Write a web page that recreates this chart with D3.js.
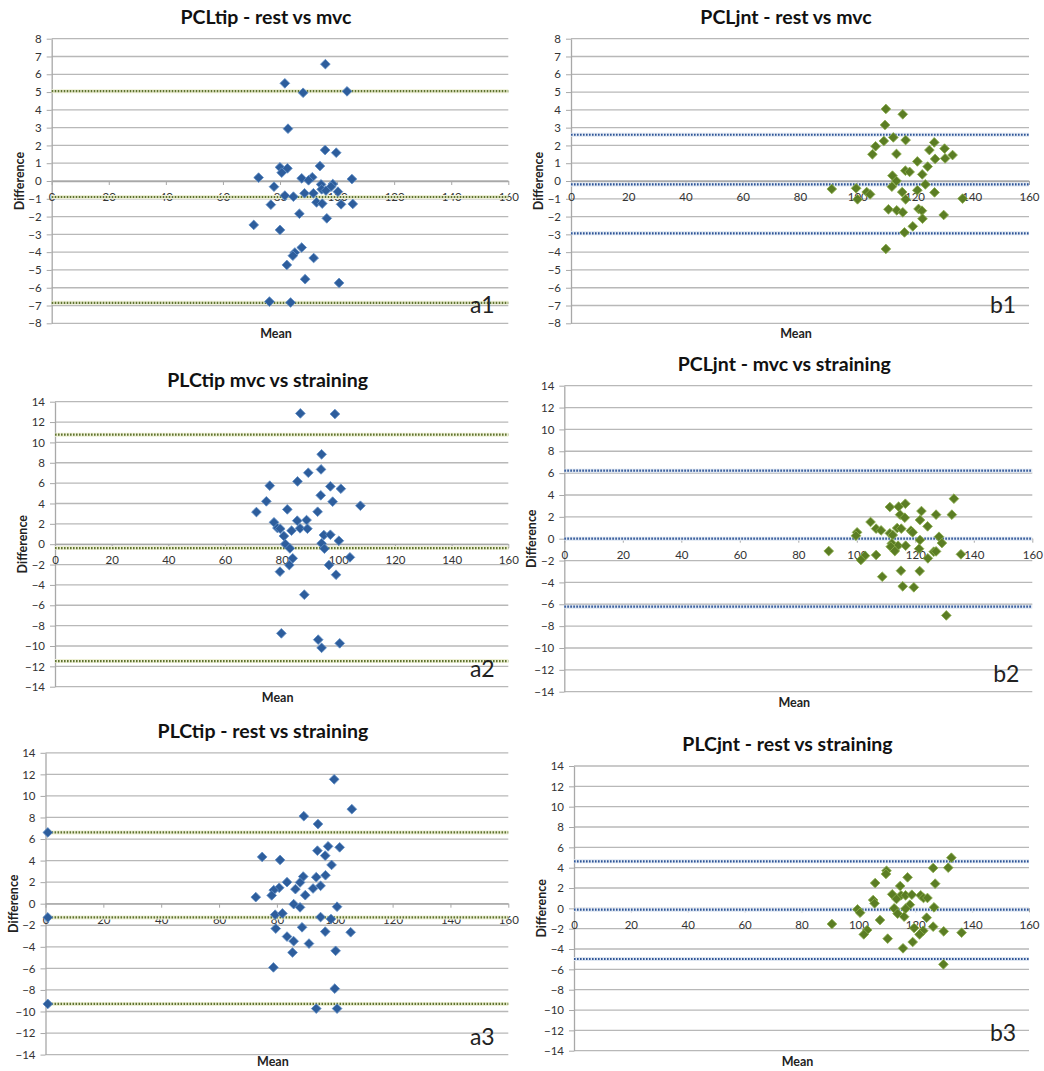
<!DOCTYPE html>
<html>
<head>
<meta charset="utf-8">
<script src="https://cdn.jsdelivr.net/npm/d3@7"></script>
<style>
body { margin: 0; background: #fff; }
svg text { font-family: Lato, "Open Sans", sans-serif; }
</style>
</head>
<body>
<svg id="chart" width="1044" height="1071"></svg>
<script>
// a1: PCLtip - rest vs mvc
const a1Mean = [95.9, 81.7, 88.1, 103.5, 82.8, 95.8, 99.7, 94.0, 80.0, 82.6, 80.6, 72.5, 87.6, 91.3, 90.0, 105.2, 77.9, 94.4, 98.5, 97.9, 94.6, 96.1, 100.3, 81.7, 84.7, 88.6, 91.7, 76.8, 92.8, 94.8, 101.4, 105.5, 86.8, 96.4, 70.8, 80.0, 87.6, 85.2, 84.5, 91.8, 82.4, 88.8, 100.7, 76.3, 83.7];
const a1Diff = [6.57, 5.49, 4.96, 5.04, 2.94, 1.74, 1.59, 0.84, 0.77, 0.71, 0.47, 0.19, 0.15, 0.21, 0.04, 0.11, -0.32, -0.19, -0.17, -0.32, -0.47, -0.54, -0.6, -0.82, -0.88, -0.69, -0.69, -1.33, -1.2, -1.27, -1.31, -1.29, -1.84, -2.1, -2.47, -2.75, -3.74, -4.02, -4.2, -4.33, -4.72, -5.52, -5.73, -6.78, -6.83];
const a1Limits = [5.05, -0.9, -6.85];

// b1: PCLjnt - rest vs mvc
const b1Mean = [110.0, 115.9, 109.7, 112.6, 109.3, 116.9, 126.9, 106.4, 130.5, 125.2, 105.3, 113.7, 133.3, 127.2, 130.7, 121.0, 124.6, 116.8, 118.3, 112.3, 122.7, 113.7, 112.1, 123.8, 91.1, 99.6, 121.0, 103.3, 115.7, 127.0, 104.5, 100.1, 116.9, 136.8, 110.9, 113.8, 115.9, 121.4, 122.6, 130.2, 122.8, 119.4, 116.5, 110.0];
const b1Diff = [4.05, 3.75, 3.15, 2.45, 2.25, 2.3, 2.17, 1.95, 1.82, 1.74, 1.5, 1.52, 1.46, 1.24, 1.27, 1.1, 0.81, 0.58, 0.51, 0.3, 0.37, 0.0, -0.32, -0.19, -0.45, -0.41, -0.52, -0.62, -0.62, -0.64, -0.75, -1.03, -1.03, -0.99, -1.59, -1.65, -1.76, -1.57, -1.67, -1.91, -2.12, -2.55, -2.89, -3.82];
const b1Limits = [2.6, -0.19, -2.94];

// a2: PLCtip mvc vs straining
const a2Mean = [86.6, 98.8, 94.1, 93.9, 89.4, 85.6, 75.8, 97.2, 100.9, 93.8, 74.6, 98.0, 107.8, 82.0, 71.1, 92.7, 85.5, 88.8, 77.3, 78.5, 79.5, 86.5, 89.1, 83.5, 80.8, 94.9, 97.2, 100.2, 81.3, 94.1, 82.9, 95.1, 83.9, 104.1, 82.7, 96.7, 79.4, 99.2, 88.0, 79.9, 92.9, 94.1, 100.5];
const a2Diff = [12.85, 12.79, 8.83, 7.35, 7.02, 6.17, 5.75, 5.68, 5.45, 4.8, 4.21, 4.18, 3.78, 3.42, 3.16, 3.19, 2.31, 2.37, 2.15, 1.59, 1.52, 1.56, 1.52, 1.33, 0.8, 0.9, 0.93, 0.34, 0.02, 0.08, -0.41, -0.44, -1.39, -1.29, -2.05, -2.05, -2.7, -3.0, -4.96, -8.76, -9.38, -10.18, -9.74];
const a2Limits = [10.76, -0.38, -11.48];

// b2: PCLjnt - mvc vs straining
const b2Mean = [133.2, 116.6, 111.3, 114.3, 122.1, 114.8, 127.1, 132.5, 116.4, 121.6, 104.7, 124.2, 113.8, 115.2, 106.6, 108.3, 118.5, 119.1, 100.1, 111.3, 112.3, 99.7, 128.1, 121.6, 129.1, 112.0, 114.1, 116.7, 111.6, 121.3, 113.0, 90.4, 126.3, 127.1, 102.8, 106.6, 135.6, 124.3, 101.4, 115.1, 121.5, 108.7, 115.7, 119.5, 130.6];
const b2Diff = [3.66, 3.2, 2.9, 2.93, 2.53, 2.2, 2.2, 2.2, 1.92, 1.71, 1.53, 1.13, 0.98, 0.92, 0.92, 0.76, 0.73, 0.58, 0.58, 0.49, 0.34, 0.27, 0.18, -0.12, -0.4, -0.43, -0.64, -0.64, -0.73, -0.92, -1.13, -1.13, -1.19, -1.16, -1.56, -1.49, -1.43, -1.8, -1.95, -2.93, -2.96, -3.48, -4.36, -4.45, -7.02];
const b2Limits = [6.22, 0.0, -6.22];

// a3: PLCtip - rest vs straining
const a3Mean = [99.8, 105.9, 89.3, 94.2, 97.7, 101.7, 94.0, 96.7, 74.9, 81.1, 98.9, 89.1, 93.6, 96.8, 88.0, 83.5, 95.1, 92.5, 86.4, 80.8, 78.9, 78.2, 72.7, 89.8, 85.8, 88.0, 100.8, 79.4, 81.9, 95.1, 98.7, 79.6, 88.7, 96.7, 105.5, 83.5, 85.8, 91.1, 85.4, 100.3, 78.8, 100.0, 93.6, 100.8];
const a3Diff = [11.54, 8.77, 8.12, 7.39, 5.32, 5.23, 4.92, 4.46, 4.34, 4.06, 3.6, 2.52, 2.46, 2.64, 1.97, 2.0, 1.66, 1.41, 1.35, 1.48, 1.26, 0.77, 0.61, 0.79, -0.04, -0.34, -0.28, -1.02, -0.9, -1.24, -1.42, -2.31, -2.19, -2.59, -2.65, -3.05, -3.48, -3.7, -4.53, -4.37, -5.91, -7.88, -9.73, -9.73];
const a3Limits = [6.61, -1.27, -9.3];

// b3: PLCjnt - rest vs straining
const b3Mean = [132.7, 126.3, 131.6, 109.9, 109.7, 117.3, 105.9, 127.0, 114.7, 111.9, 115.0, 116.6, 118.8, 121.9, 122.9, 124.3, 113.4, 105.2, 105.7, 118.1, 126.6, 112.6, 116.6, 99.7, 100.6, 113.8, 116.1, 124.0, 107.6, 90.7, 119.6, 126.3, 103.1, 122.8, 130.0, 136.3, 101.9, 121.5, 110.3, 119.1, 115.7, 129.9];
const b3Diff = [4.98, 3.97, 4.0, 3.7, 3.38, 3.05, 2.49, 2.43, 2.2, 1.38, 1.28, 1.28, 1.34, 1.28, 1.02, 1.02, 0.92, 0.82, 0.49, 0.36, 0.1, 0.0, -0.03, -0.1, -0.43, -0.52, -0.82, -0.92, -1.15, -1.54, -1.93, -1.8, -2.13, -2.2, -2.26, -2.39, -2.56, -2.56, -2.98, -3.31, -3.93, -5.51];
const b3Limits = [4.62, -0.13, -4.98];

const titles = ['PCLtip - rest vs mvc', 'PCLjnt - rest vs mvc', 'PLCtip mvc vs straining',
    'PCLjnt - mvc vs straining', 'PLCtip - rest vs straining', 'PLCjnt - rest vs straining'];
const tags = ['a1', 'b1', 'a2', 'b2', 'a3', 'b3'];
const xTicks = [0, 20, 40, 60, 80, 100, 120, 140, 160];

const blue = {fill: '#2d5d9c', stroke: '#5f8cc4', line: '#2f5597', glow: '#dfe7f2'};
const green = {fill: '#5b7d24', stroke: '#8aac4c', line: '#5f7330', glow: '#eef0d6'};

// plot boxes
const panels = [
    {mean: a1Mean, diff: a1Diff, limits: a1Limits, left: 51.7, right: 508.3, top: 38.7, bottom: 323.3, max: 8, step: 1, c: blue, lineC: green},
    {mean: b1Mean, diff: b1Diff, limits: b1Limits, left: 571, right: 1029, top: 38.7, bottom: 323.3, max: 8, step: 1, c: green, lineC: blue},
    {mean: a2Mean, diff: a2Diff, limits: a2Limits, left: 55, right: 508.3, top: 401.7, bottom: 686.7, max: 14, step: 2, c: blue, lineC: green},
    {mean: b2Mean, diff: b2Diff, limits: b2Limits, left: 564.3, right: 1032.3, top: 385.7, bottom: 691.7, max: 14, step: 2, c: green, lineC: blue},
    {mean: a3Mean, diff: a3Diff, limits: a3Limits, left: 45.5, right: 508.3, top: 752.8, bottom: 1054.6, max: 14, step: 2, c: blue, lineC: green, endMarks: true},
    {mean: b3Mean, diff: b3Diff, limits: b3Limits, left: 574, right: 1029, top: 766, bottom: 1050.7, max: 14, step: 2, c: green, lineC: blue},
];

const svg = d3.select('#chart');
const diamond = d3.symbol().type(d3.symbolSquare).size(47);

function drawPanel(p, i) {
    const x = d3.scaleLinear().domain([0, 160]).range([p.left, p.right]);
    const y = d3.scaleLinear().domain([-p.max, p.max]).range([p.bottom, p.top]);
    const yTicks = d3.range(-p.max, p.max + 0.001, p.step);
    const g = svg.append('g');

    g.append('g').selectAll('line').data(yTicks).join('line')
        .attr('x1', p.left).attr('x2', p.right)
        .attr('y1', d => y(d)).attr('y2', d => y(d))
        .attr('stroke', '#b8b8b8').attr('stroke-width', 1.3);

    const yAxis = g.append('g')
        .attr('transform', `translate(${p.left},0)`)
        .call(d3.axisLeft(y).tickValues(yTicks).tickSize(5).tickPadding(5).tickSizeOuter(0));
    yAxis.select('.domain').attr('stroke', '#a8a8a8').attr('stroke-width', 1.3);
    yAxis.selectAll('.tick line').attr('stroke', '#a8a8a8');
    yAxis.selectAll('.tick text').attr('fill', '#333').style('font-size', '11.5px');

    const xAxis = g.append('g')
        .attr('transform', `translate(0,${y(0)})`)
        .call(d3.axisBottom(x).tickValues(xTicks).tickSize(4).tickPadding(8).tickSizeOuter(0));
    xAxis.select('.domain').attr('stroke', '#a8a8a8').attr('stroke-width', 1.3);
    xAxis.selectAll('.tick line').attr('stroke', '#a8a8a8');
    xAxis.selectAll('.tick text').attr('fill', '#333').style('font-size', '11.5px');

    const lim = g.append('g');
    lim.selectAll('line.glow').data(p.limits).join('line').attr('class', 'glow')
        .attr('x1', x(0)).attr('x2', x(160))
        .attr('y1', d => y(d)).attr('y2', d => y(d))
        .attr('stroke', p.lineC.glow).attr('stroke-width', 4);
    lim.selectAll('line.dots').data(p.limits).join('line').attr('class', 'dots')
        .attr('x1', x(0)).attr('x2', x(160))
        .attr('y1', d => y(d)).attr('y2', d => y(d))
        .attr('stroke', p.lineC.line).attr('stroke-width', 2.2)
        .attr('stroke-dasharray', '1.6,1.4');

    const pts = p.mean.map((m, k) => [m, p.diff[k]]);
    if (p.endMarks) p.limits.forEach(l => pts.push([0.8, l]));
    g.append('g').selectAll('path').data(pts).join('path')
        .attr('d', diamond)
        .attr('transform', d => `translate(${x(d[0])},${y(d[1])}) rotate(45)`)
        .attr('fill', p.c.fill).attr('stroke', p.c.stroke).attr('stroke-width', 0.8);

    const mid = (p.left + p.right) / 2;
    g.append('text').attr('x', mid - 14).attr('y', p.top - 15)
        .attr('text-anchor', 'middle').style('font-size', '19.5px').style('font-weight', 'bold')
        .attr('fill', '#111').text(titles[i]);
    g.append('text').attr('x', mid - 4).attr('y', Math.min(p.bottom + 15, 1066))
        .attr('text-anchor', 'middle').style('font-size', '12.5px').style('font-weight', 'bold')
        .attr('fill', '#222').text('Mean');
    g.append('text')
        .attr('transform', `translate(${p.left - 28},${y(0)}) rotate(-90)`)
        .attr('text-anchor', 'middle').style('font-size', '12.5px').style('font-weight', 'bold')
        .attr('fill', '#222').text('Difference');
    g.append('text').attr('x', p.right - 26).attr('y', p.bottom - 10)
        .attr('text-anchor', 'middle').style('font-size', '23px')
        .attr('fill', '#222').text(tags[i]);
}

panels.forEach(drawPanel);
</script>
</body>
</html>
